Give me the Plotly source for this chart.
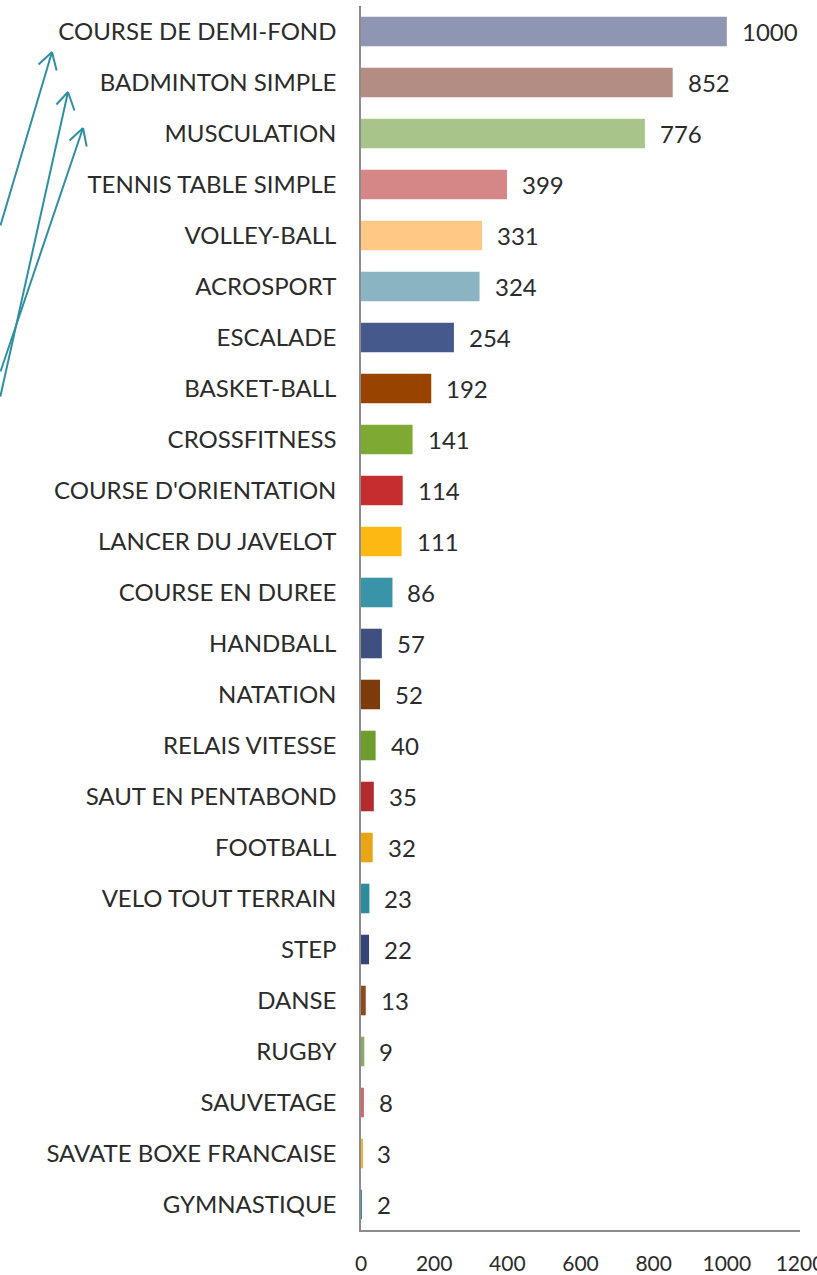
import plotly.graph_objects as go

# ---- data (top to bottom) ----
categories = [
    "COURSE DE DEMI-FOND", "BADMINTON SIMPLE", "MUSCULATION", "TENNIS TABLE SIMPLE",
    "VOLLEY-BALL", "ACROSPORT", "ESCALADE", "BASKET-BALL", "CROSSFITNESS",
    "COURSE D'ORIENTATION", "LANCER DU JAVELOT", "COURSE EN DUREE", "HANDBALL",
    "NATATION", "RELAIS VITESSE", "SAUT EN PENTABOND", "FOOTBALL",
    "VELO TOUT TERRAIN", "STEP", "DANSE", "RUGBY", "SAUVETAGE",
    "SAVATE BOXE FRANCAISE", "GYMNASTIQUE",
]
values = [1000, 852, 776, 399, 331, 324, 254, 192, 141, 114, 111, 86, 57, 52,
          40, 35, 32, 23, 22, 13, 9, 8, 3, 2]
bar_colors = [
    "#8E96B3", "#B38D83", "#A9C48B", "#D58787", "#FFC885", "#8AB4C2",
    "#46598C", "#984300", "#7EAA33", "#C52D2F", "#FDB813", "#3A94A8",
    "#3E4F80", "#7D3A0A", "#6E9C2E", "#B52A2C", "#E8A515", "#2E8B9E",
    "#35457A", "#8E4A1E", "#8AA866", "#D06A6A", "#F0B030", "#3090A5",
]
x_ticks = [0, 200, 400, 600, 800, 1000, 1200]

FONT = "Lato, 'Noto Sans', sans-serif"
TEXT_COLOR = "#2b2b2b"
FS_CAT = 24
FS_VAL = 24
FS_TICK = 21

# layout geometry in pixels
W, H = 817, 1275
ML, MR, MT, MB = 361, 17, 6, 45
PW, PH = W - ML - MR, H - MT - MB

fig = go.Figure(
    go.Bar(
        x=values,
        y=categories,
        orientation="h",
        marker=dict(color=bar_colors, line=dict(width=0)),
        showlegend=False,
        hoverinfo="x+y",
    )
)

annotations = []
for c, v in zip(categories, values):
    annotations.append(dict(
        x=v, y=c, xref="x", yref="y", text=str(v), showarrow=False,
        xanchor="left", yanchor="middle", xshift=13,
        font=dict(family=FONT, size=FS_VAL, color=TEXT_COLOR),
    ))

# decorative arrows (pixel coordinates): tip, tail, left arm end, right arm end
ARROW_COLOR = "#2E8FA3"
arrows = [
    ((52, 52), (0, 227), (37, 66), (57, 72)),
    ((68, 92), (0, 398), (55, 106), (75, 112)),
    ((83, 128), (0, 373), (68, 142), (87, 148)),
]


def px2paper(px, py):
    return (px - ML) / PW, (MT + PH - py) / PH


for tip, tail, la, ra in arrows:
    tx, ty = px2paper(*tip)
    for end in (tail, la, ra):
        annotations.append(dict(
            x=tx, y=ty, xref="paper", yref="paper", text="",
            showarrow=True, arrowhead=0, arrowwidth=2, arrowcolor=ARROW_COLOR,
            ax=end[0] - tip[0], ay=end[1] - tip[1], standoff=0, startstandoff=0,
        ))

fig.update_layout(
    width=W, height=H,
    margin=dict(l=ML, r=MR, t=MT, b=MB, autoexpand=False),
    paper_bgcolor="white", plot_bgcolor="white",
    bargap=0.42,
    font=dict(family=FONT, size=FS_CAT, color=TEXT_COLOR),
    xaxis=dict(
        range=[0, 1200], tickvals=x_ticks, ticktext=[str(t) for t in x_ticks],
        showgrid=False, zeroline=False, showline=True, linecolor="#8c8c8c",
        linewidth=1.5, ticks="", ticklabelstandoff=14,
        ticklabeloverflow="allow",
        tickfont=dict(family=FONT, size=FS_TICK, color=TEXT_COLOR),
    ),
    yaxis=dict(
        autorange="reversed", showgrid=False, zeroline=False, showline=True,
        linecolor="#8c8c8c", linewidth=1.5, ticks="", ticklabelstandoff=18,
        tickfont=dict(family=FONT, size=FS_CAT, color=TEXT_COLOR),
    ),
    annotations=annotations,
)

fig.write_html(
    "out.html",
    config={"displayModeBar": False},
    post_script="document.body.style.margin='0';",
)
